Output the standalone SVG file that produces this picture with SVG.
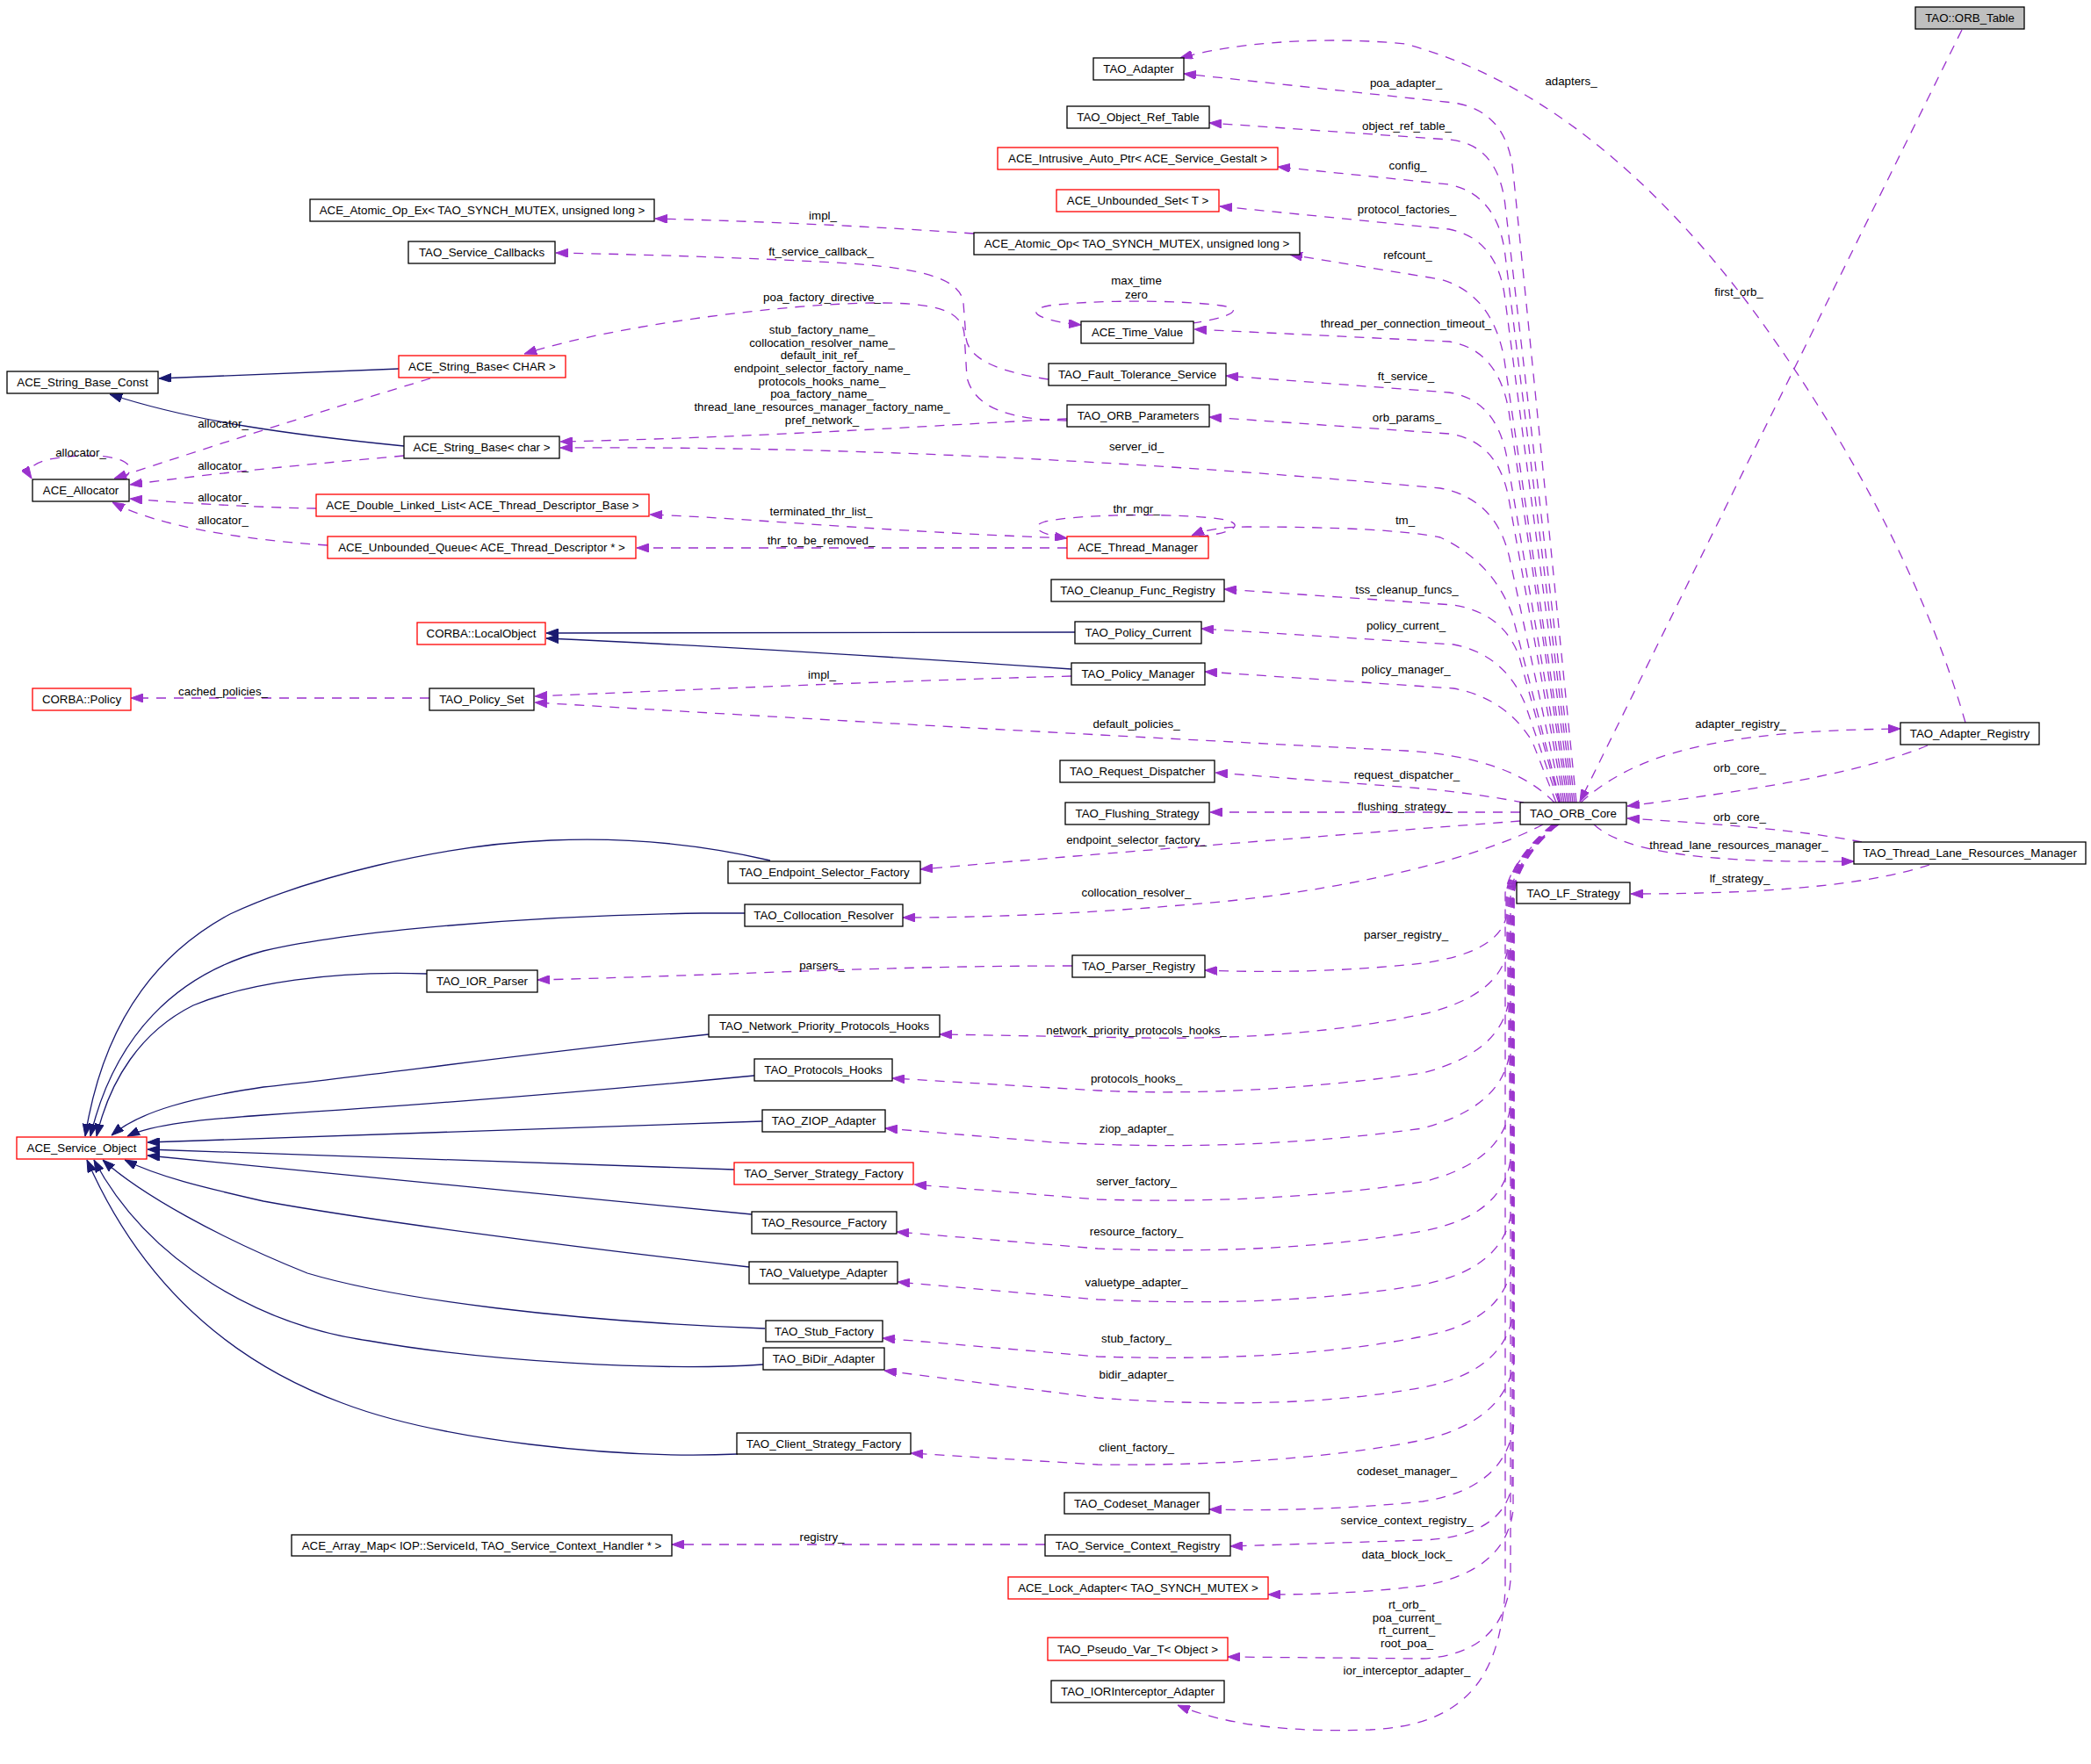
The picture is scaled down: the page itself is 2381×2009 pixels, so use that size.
<svg xmlns="http://www.w3.org/2000/svg" width="2381" height="2009" viewBox="0 0 2381 2009">
<style>
text{font-family:"Liberation Sans",Arial,sans-serif;font-size:13.3px;fill:#000;text-anchor:middle}
.node rect{fill:#fff;stroke:#000;stroke-width:1.3}
.node.red rect{stroke:#ff0000}
.node.gray rect{fill:#bfbfbf}
.inh{fill:none;stroke:#191970;stroke-width:1.3;marker-end:url(#an)}
.use{fill:none;stroke:#9a32cd;stroke-width:1.3;stroke-dasharray:11,9;marker-end:url(#ap)}
</style>
<defs>
<marker id="ap" viewBox="0 0 14 10" refX="14" refY="5" markerWidth="14" markerHeight="10" markerUnits="userSpaceOnUse" orient="auto"><path d="M0,0 L14,5 L0,10 Z" fill="#9a32cd" stroke="#9a32cd" stroke-width="1"/></marker>
<marker id="an" viewBox="0 0 14 10" refX="14" refY="5" markerWidth="14" markerHeight="10" markerUnits="userSpaceOnUse" orient="auto"><path d="M0,0 L14,5 L0,10 Z" fill="#191970" stroke="#191970" stroke-width="1"/></marker>
</defs>
<rect width="2381" height="2009" fill="#fff"/>
<g id="edges">
<path class="inh" d="M454,420 L181,431"/>
<path class="inh" d="M460,508 C330,495 220,480 125,449"/>
<path class="inh" d="M1224,720 L622,721"/>
<path class="inh" d="M1220,762 C1000,747 800,735 622,727"/>
<path class="inh" d="M877,980 C800,962 720,953 627,957 C500,962 350,1000 262,1041 C190,1080 120,1150 97,1294"/>
<path class="inh" d="M848,1040 L800,1040 C600,1043 400,1060 300,1083 C200,1110 130,1180 103,1294"/>
<path class="inh" d="M486,1109 C380,1105 280,1120 220,1145 C160,1175 125,1230 110,1294"/>
<path class="inh" d="M807,1178 C600,1200 420,1225 300,1238 C220,1250 160,1265 127,1293"/>
<path class="inh" d="M859,1225 C600,1250 420,1262 300,1270 C230,1275 175,1280 145,1294"/>
<path class="inh" d="M868,1277 L168,1301"/>
<path class="inh" d="M836,1332 L168,1309"/>
<path class="inh" d="M856,1383 L168,1316"/>
<path class="inh" d="M853,1443 C650,1420 420,1390 300,1368 C230,1352 180,1340 142,1321"/>
<path class="inh" d="M871,1513 C650,1505 450,1480 350,1450 C250,1410 160,1360 117,1321"/>
<path class="inh" d="M869,1554 C750,1562 550,1550 420,1527 C300,1510 170,1440 107,1321"/>
<path class="inh" d="M840,1656 C700,1662 500,1640 390,1598 C260,1550 160,1460 99,1321"/>

<path class="use" d="M1795,914 L1723,196 Q1716,126 1655,117 L1348,84"/>
<path class="use" d="M1793,914 L1714,234 Q1706,164 1650,159 L1377,140"/>
<path class="use" d="M1791,914 L1714,291 Q1706,222 1650,210 L1455,190"/>
<path class="use" d="M1789,914 L1714,342 Q1706,272 1650,261 L1389,235"/>
<path class="use" d="M1787,914 L1713,410 Q1700,335 1640,318 L1469,290"/>
<path class="use" d="M1785,914 L1718,468 Q1706,398 1650,389 L1360,375"/>
<path class="use" d="M1783,914 L1716,522 Q1704,455 1650,447 L1396,428"/>
<path class="use" d="M1781,914 L1718,568 Q1706,502 1650,494 L1377,475"/>
<path class="use" d="M1779,914 L1719,636 Q1704,568 1640,556 Q1100,507 638,510"/>
<path class="use" d="M1777,914 L1722,700 Q1700,640 1640,612 Q1580,600 1420,600 Q1380,600 1357,610"/>
<path class="use" d="M1776,914 L1730,748 Q1712,698 1655,689 L1394,671"/>
<path class="use" d="M1775,914 L1736,800 Q1712,745 1655,734 L1368,716"/>
<path class="use" d="M1772,914 L1745,845 Q1715,795 1655,784 L1372,765"/>
<path class="use" d="M1770,914 Q1720,862 1600,855 Q1100,830 609,800"/>
<path class="use" d="M1735,914 Q1660,900 1580,895 L1384,880"/>
<path class="use" d="M1731,925 L1378,925"/>
<path class="use" d="M1731,935 C1600,945 1300,968 1048,990"/>
<path class="use" d="M1757,939 C1690,975 1550,1010 1400,1026 Q1200,1045 1028,1045"/>

<path class="use" d="M1768,939 Q1721,978 1715,1017 L1715,1045 Q1705,1085 1620,1097 Q1500,1110 1372,1105"/>
<path class="use" d="M1768,939 Q1722,978 1716,1017 L1716,1085 Q1705,1135 1620,1155 Q1480,1185 1300,1182 L1070,1178"/>
<path class="use" d="M1769,939 Q1723,978 1717,1017 L1717,1145 Q1705,1200 1620,1222 Q1420,1250 1250,1242 L1016,1228"/>
<path class="use" d="M1769,939 Q1724,978 1718,1017 L1718,1205 Q1706,1262 1620,1285 Q1420,1313 1200,1301 L1008,1285"/>
<path class="use" d="M1770,939 Q1725,978 1719,1017 L1719,1265 Q1708,1325 1620,1346 Q1450,1372 1250,1366 L1041,1349"/>
<path class="use" d="M1770,939 Q1726,978 1720,1017 L1720,1320 Q1712,1385 1620,1402 Q1460,1430 1250,1422 L1021,1403"/>
<path class="use" d="M1771,939 Q1727,978 1721,1017 L1721,1380 Q1712,1445 1620,1463 Q1460,1490 1250,1480 L1022,1460"/>
<path class="use" d="M1771,939 Q1728,978 1722,1017 L1722,1440 Q1712,1505 1620,1522 Q1470,1552 1250,1545 L1005,1524"/>
<path class="use" d="M1772,939 Q1729,978 1723,1017 L1723,1495 Q1714,1562 1620,1580 Q1470,1608 1250,1592 L1007,1561"/>
<path class="use" d="M1772,939 Q1730,978 1724,1017 L1724,1550 Q1715,1618 1620,1640 Q1470,1670 1250,1668 L1037,1655"/>
<path class="use" d="M1773,939 Q1730,978 1724,1017 L1724,1620 Q1716,1695 1620,1710 Q1500,1722 1377,1719"/>
<path class="use" d="M1773,939 Q1728,978 1722,1017 L1722,1690 Q1712,1750 1620,1754 L1401,1761"/>
<path class="use" d="M1774,939 Q1729,978 1723,1017 L1723,1720 Q1714,1790 1620,1806 Q1540,1816 1444,1816"/>
<path class="use" d="M1774,939 Q1726,978 1720,1017 L1720,1800 Q1712,1884 1620,1889 L1398,1887"/>
<path class="use" d="M1775,939 Q1720,978 1714,1017 L1714,1810 C1708,1920 1660,1965 1560,1970 Q1420,1975 1341,1942"/>

<path class="use" d="M1800,914 C1860,860 1950,832 2164,830"/>
<path class="use" d="M2195,849 C2120,880 2000,900 1853,918"/>
<path class="use" d="M2120,959 C2050,945 1950,938 1853,932"/>
<path class="use" d="M1815,939 C1850,972 1950,983 2111,981"/>
<path class="use" d="M2197,985 C2120,1010 2000,1018 1857,1018"/>
<path class="use" d="M2234,34 L1799,913"/>
<path class="use" d="M2238,823 C2200,690 2120,520 1990,345 C1880,200 1750,90 1600,50 C1500,40 1400,50 1344,66"/>

<path class="use" d="M1109,266 Q940,254 746,249"/>
<path class="use" d="M1194,432 C1140,424 1103,410 1100,385 L1097,345 C1094,320 1060,305 950,299 Q800,291 633,288"/>
<path class="use" d="M1215,479 C1150,478 1110,465 1101,430 L1098,380 C1095,355 1070,345 1000,345 C900,345 700,370 597,403"/>
<path class="use" d="M1215,477 C1100,482 900,497 638,503"/>
<path class="use" d="M140,546 C160,530 140,518 95,519 C55,520 25,528 36,545"/>
<path class="use" d="M490,431 C400,458 250,505 130,545"/>
<path class="use" d="M460,519 C360,528 250,538 148,552"/>
<path class="use" d="M360,579 C300,578 220,574 148,568"/>
<path class="use" d="M373,621 C280,615 180,600 128,572"/>
<path class="use" d="M1215,613 C1000,605 850,590 740,586"/>
<path class="use" d="M1215,624 L725,624"/>
<path class="use" d="M1365,611 C1400,608 1420,598 1395,592 C1350,584 1230,585 1190,594 C1170,600 1185,609 1215,613"/>
<path class="use" d="M1357,368 C1400,362 1420,352 1390,348 C1340,341 1240,342 1195,348 C1165,353 1180,365 1231,370"/>
<path class="use" d="M1221,1100 C1000,1100 850,1110 612,1116"/>
<path class="use" d="M1190,1759 L765,1759"/>
<path class="use" d="M489,795 L149,795"/>
<path class="use" d="M1220,770 C1000,776 800,785 609,793"/>
</g>
<g id="edge-labels">
<text x="1789" y="97">adapters_</text>
<text x="1980" y="337">first_orb_</text>
<text x="1601" y="99">poa_adapter_</text>
<text x="1602" y="148">object_ref_table_</text>
<text x="1603" y="193">config_</text>
<text x="1602" y="243">protocol_factories_</text>
<text x="1603" y="295">refcount_</text>
<text x="1601" y="373">thread_per_connection_timeout_</text>
<text x="1601" y="433">ft_service_</text>
<text x="1602" y="480">orb_params_</text>
<text x="1294" y="513">server_id_</text>
<text x="1600" y="597">tm_</text>
<text x="1602" y="676">tss_cleanup_funcs_</text>
<text x="1601" y="717">policy_current_</text>
<text x="1601" y="767">policy_manager_</text>
<text x="1294" y="829">default_policies_</text>
<text x="1602" y="887">request_dispatcher_</text>
<text x="1600" y="923">flushing_strategy_</text>
<text x="1294" y="961">endpoint_selector_factory_</text>
<text x="1294" y="1021">collocation_resolver_</text>
<text x="1601" y="1069">parser_registry_</text>
<text x="1294" y="1178">network_priority_protocols_hooks_</text>
<text x="1294" y="1233">protocols_hooks_</text>
<text x="1294" y="1290">ziop_adapter_</text>
<text x="1294" y="1350">server_factory_</text>
<text x="1294" y="1407">resource_factory_</text>
<text x="1294" y="1465">valuetype_adapter_</text>
<text x="1294" y="1529">stub_factory_</text>
<text x="1294" y="1570">bidir_adapter_</text>
<text x="1294" y="1653">client_factory_</text>
<text x="1602" y="1680">codeset_manager_</text>
<text x="1602" y="1736">service_context_registry_</text>
<text x="1602" y="1775">data_block_lock_</text>
<text x="1602" y="1832">rt_orb_</text>
<text x="1602" y="1847">poa_current_</text>
<text x="1602" y="1861">rt_current_</text>
<text x="1602" y="1876">root_poa_</text>
<text x="1602" y="1907">ior_interceptor_adapter_</text>
<text x="1982" y="829">adapter_registry_</text>
<text x="1981" y="879">orb_core_</text>
<text x="1981" y="935">orb_core_</text>
<text x="1980" y="967">thread_lane_resources_manager_</text>
<text x="1981" y="1005">lf_strategy_</text>
<text x="937" y="250">impl_</text>
<text x="935" y="291">ft_service_callback_</text>
<text x="1294" y="324">max_time</text>
<text x="1294" y="340">zero</text>
<text x="936" y="343">poa_factory_directive_</text>
<text x="936" y="380">stub_factory_name_</text>
<text x="936" y="395">collocation_resolver_name_</text>
<text x="936" y="409">default_init_ref_</text>
<text x="936" y="424">endpoint_selector_factory_name_</text>
<text x="936" y="439">protocols_hooks_name_</text>
<text x="936" y="453">poa_factory_name_</text>
<text x="936" y="468">thread_lane_resources_manager_factory_name_</text>
<text x="936" y="483">pref_network_</text>
<text x="92" y="520">allocator_</text>
<text x="254" y="487">allocator_</text>
<text x="254" y="535">allocator_</text>
<text x="254" y="571">allocator_</text>
<text x="254" y="597">allocator_</text>
<text x="935" y="587">terminated_thr_list_</text>
<text x="935" y="620">thr_to_be_removed_</text>
<text x="1294" y="584">thr_mgr_</text>
<text x="936" y="773">impl_</text>
<text x="254" y="792">cached_policies_</text>
<text x="936" y="1104">parsers_</text>
<text x="936" y="1755">registry_</text>
</g>
<g id="n_orb_table" class="node gray"><rect x="2181" y="8" width="124" height="25"/><text x="2243" y="25">TAO::ORB_Table</text></g>
<g id="n_adapter" class="node"><rect x="1245" y="66" width="103" height="25"/><text x="1296.5" y="83">TAO_Adapter</text></g>
<g id="n_objref" class="node"><rect x="1215" y="121" width="162" height="25"/><text x="1296" y="138">TAO_Object_Ref_Table</text></g>
<g id="n_intrusive" class="node red"><rect x="1136" y="168" width="319" height="25"/><text x="1295.5" y="185">ACE_Intrusive_Auto_Ptr&lt; ACE_Service_Gestalt &gt;</text></g>
<g id="n_uset" class="node red"><rect x="1203" y="216" width="185" height="25"/><text x="1295.5" y="233">ACE_Unbounded_Set&lt; T &gt;</text></g>
<g id="n_atomic_ex" class="node"><rect x="353" y="227" width="392" height="25"/><text x="549" y="244">ACE_Atomic_Op_Ex&lt; TAO_SYNCH_MUTEX, unsigned long &gt;</text></g>
<g id="n_atomic" class="node"><rect x="1109" y="265" width="371" height="25"/><text x="1294.5" y="282">ACE_Atomic_Op&lt; TAO_SYNCH_MUTEX, unsigned long &gt;</text></g>
<g id="n_svc_cb" class="node"><rect x="465" y="275" width="167" height="25"/><text x="548.5" y="292">TAO_Service_Callbacks</text></g>
<g id="n_time" class="node"><rect x="1231" y="366" width="128" height="25"/><text x="1295" y="383">ACE_Time_Value</text></g>
<g id="n_strconst" class="node"><rect x="8" y="423" width="172" height="25"/><text x="94" y="440">ACE_String_Base_Const</text></g>
<g id="n_strCHAR" class="node red"><rect x="454" y="405" width="190" height="25"/><text x="549" y="422">ACE_String_Base&lt; CHAR &gt;</text></g>
<g id="n_ft" class="node"><rect x="1194" y="414" width="202" height="25"/><text x="1295" y="431">TAO_Fault_Tolerance_Service</text></g>
<g id="n_orbparams" class="node"><rect x="1215" y="461" width="162" height="25"/><text x="1296" y="478">TAO_ORB_Parameters</text></g>
<g id="n_strchar" class="node"><rect x="460" y="497" width="177" height="25"/><text x="548.5" y="514">ACE_String_Base&lt; char &gt;</text></g>
<g id="n_alloc" class="node"><rect x="37" y="546" width="110" height="25"/><text x="92" y="563">ACE_Allocator</text></g>
<g id="n_dll" class="node red"><rect x="360" y="563" width="379" height="25"/><text x="549.5" y="580">ACE_Double_Linked_List&lt; ACE_Thread_Descriptor_Base &gt;</text></g>
<g id="n_uq" class="node red"><rect x="373" y="611" width="351" height="25"/><text x="548.5" y="628">ACE_Unbounded_Queue&lt; ACE_Thread_Descriptor * &gt;</text></g>
<g id="n_thrmgr" class="node red"><rect x="1215" y="611" width="161" height="25"/><text x="1295.5" y="628">ACE_Thread_Manager</text></g>
<g id="n_cleanup" class="node"><rect x="1197" y="660" width="197" height="25"/><text x="1295.5" y="677">TAO_Cleanup_Func_Registry</text></g>
<g id="n_localobj" class="node red"><rect x="475" y="709" width="146" height="25"/><text x="548" y="726">CORBA::LocalObject</text></g>
<g id="n_polcur" class="node"><rect x="1224" y="708" width="144" height="25"/><text x="1296" y="725">TAO_Policy_Current</text></g>
<g id="n_polmgr" class="node"><rect x="1220" y="755" width="152" height="25"/><text x="1296" y="772">TAO_Policy_Manager</text></g>
<g id="n_policy" class="node red"><rect x="37" y="784" width="112" height="25"/><text x="93" y="801">CORBA::Policy</text></g>
<g id="n_polset" class="node"><rect x="489" y="784" width="119" height="25"/><text x="548.5" y="801">TAO_Policy_Set</text></g>
<g id="n_adreg" class="node"><rect x="2164" y="823" width="158" height="25"/><text x="2243" y="840">TAO_Adapter_Registry</text></g>
<g id="n_reqdisp" class="node"><rect x="1207" y="866" width="176" height="25"/><text x="1295" y="883">TAO_Request_Dispatcher</text></g>
<g id="n_flush" class="node"><rect x="1213" y="914" width="164" height="25"/><text x="1295" y="931">TAO_Flushing_Strategy</text></g>
<g id="n_orbcore" class="node"><rect x="1731" y="914" width="121" height="25"/><text x="1791.5" y="931">TAO_ORB_Core</text></g>
<g id="n_tlrm" class="node"><rect x="2111" y="959" width="264" height="25"/><text x="2243" y="976">TAO_Thread_Lane_Resources_Manager</text></g>
<g id="n_esf" class="node"><rect x="829" y="981" width="219" height="25"/><text x="938.5" y="998">TAO_Endpoint_Selector_Factory</text></g>
<g id="n_lf" class="node"><rect x="1727" y="1005" width="129" height="24"/><text x="1791.5" y="1022">TAO_LF_Strategy</text></g>
<g id="n_colres" class="node"><rect x="848" y="1030" width="180" height="25"/><text x="938" y="1047">TAO_Collocation_Resolver</text></g>
<g id="n_parsreg" class="node"><rect x="1221" y="1088" width="151" height="25"/><text x="1296.5" y="1105">TAO_Parser_Registry</text></g>
<g id="n_iorparser" class="node"><rect x="486" y="1105" width="126" height="25"/><text x="549" y="1122">TAO_IOR_Parser</text></g>
<g id="n_npph" class="node"><rect x="807" y="1156" width="263" height="25"/><text x="938.5" y="1173">TAO_Network_Priority_Protocols_Hooks</text></g>
<g id="n_ph" class="node"><rect x="859" y="1206" width="157" height="25"/><text x="937.5" y="1223">TAO_Protocols_Hooks</text></g>
<g id="n_ziop" class="node"><rect x="868" y="1264" width="140" height="25"/><text x="938" y="1281">TAO_ZIOP_Adapter</text></g>
<g id="n_svcobj" class="node red"><rect x="19" y="1295" width="148" height="25"/><text x="93" y="1312">ACE_Service_Object</text></g>
<g id="n_ssf" class="node red"><rect x="836" y="1324" width="204" height="25"/><text x="938" y="1341">TAO_Server_Strategy_Factory</text></g>
<g id="n_rf" class="node"><rect x="856" y="1380" width="165" height="25"/><text x="938.5" y="1397">TAO_Resource_Factory</text></g>
<g id="n_vta" class="node"><rect x="853" y="1437" width="169" height="25"/><text x="937.5" y="1454">TAO_Valuetype_Adapter</text></g>
<g id="n_stubf" class="node"><rect x="872" y="1504" width="133" height="24"/><text x="938.5" y="1521">TAO_Stub_Factory</text></g>
<g id="n_bidir" class="node"><rect x="869" y="1535" width="138" height="25"/><text x="938" y="1552">TAO_BiDir_Adapter</text></g>
<g id="n_csf" class="node"><rect x="839" y="1632" width="198" height="24"/><text x="938" y="1649">TAO_Client_Strategy_Factory</text></g>
<g id="n_codeset" class="node"><rect x="1212" y="1700" width="165" height="24"/><text x="1294.5" y="1717">TAO_Codeset_Manager</text></g>
<g id="n_arraymap" class="node"><rect x="332" y="1748" width="433" height="24"/><text x="548.5" y="1765">ACE_Array_Map&lt; IOP::ServiceId, TAO_Service_Context_Handler * &gt;</text></g>
<g id="n_scr" class="node"><rect x="1190" y="1748" width="211" height="24"/><text x="1295.5" y="1765">TAO_Service_Context_Registry</text></g>
<g id="n_lock" class="node red"><rect x="1148" y="1796" width="296" height="25"/><text x="1296" y="1813">ACE_Lock_Adapter&lt; TAO_SYNCH_MUTEX &gt;</text></g>
<g id="n_pseudo" class="node red"><rect x="1193" y="1865" width="205" height="26"/><text x="1295.5" y="1883">TAO_Pseudo_Var_T&lt; Object &gt;</text></g>
<g id="n_iorint" class="node"><rect x="1197" y="1914" width="197" height="25"/><text x="1295.5" y="1931">TAO_IORInterceptor_Adapter</text></g>
</svg>
